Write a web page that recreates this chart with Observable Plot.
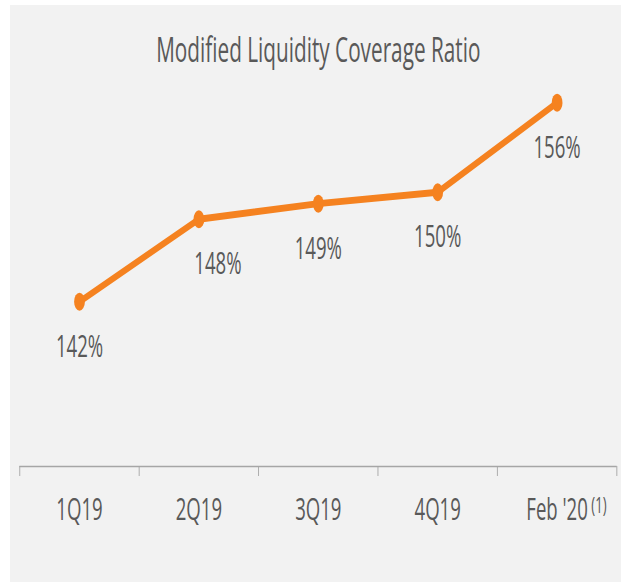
<!DOCTYPE html>
<html>
<head>
<meta charset="utf-8">
<script src="https://cdn.jsdelivr.net/npm/d3@7"></script>
<script src="https://cdn.jsdelivr.net/npm/@observablehq/plot@0.6"></script>
<style>
  html, body { margin: 0; padding: 0; background: #ffffff; }
  #wrap { position: relative; width: 621px; height: 583px; overflow: hidden; }
  #panel { position: absolute; left: 10px; top: 5px; width: 611px; height: 577px; background: #f2f2f2; }
  #chart { position: absolute; left: 0; top: 0; }
</style>
</head>
<body>
<div id="wrap"><div id="panel"></div><div id="chart"></div></div>
<script>
// ---- data ----
const title = "Modified Liquidity Coverage Ratio";
const categories = ["1Q19", "2Q19", "3Q19", "4Q19", "Feb '20"];
const values = [142, 147.8, 148.9, 149.7, 156];
const valueLabels = ["142%", "148%", "149%", "150%", "156%"];
const footnoteMark = "(1)";
const yDomain = [130.4, 160];

const data = categories.map((c, i) => ({cat: c, value: values[i], label: valueLabels[i]}));

// The reference is horizontally condensed: draw in a wider coordinate space and squash it.
const squash = 0.6;
const outW = 621, outH = 583;
const W = outW / squash, H = outH;
const half = 99.56;

const orange = "#f58220";
const textColor = "#595959";
const axisColor = "#a6a6a6";
const font = "'Open Sans', sans-serif";

const svg = Plot.plot({
  width: W,
  height: H,
  marginLeft: 32.2,
  marginRight: 7.2,
  marginTop: 45.4,
  marginBottom: 117,
  style: {background: "transparent", fontFamily: font},
  x: {type: "point", domain: categories, padding: 0.5, axis: null, label: null},
  y: {domain: yDomain, axis: null, label: null},
  marks: [
    Plot.ruleY([yDomain[0]], {stroke: axisColor, strokeWidth: 1.5}),
    Plot.axisX({tickSize: 10, tickFormat: () => "", label: null, dx: -half, stroke: axisColor, strokeWidth: 1.5}),
    Plot.axisX({ticks: [categories[categories.length - 1]], tickSize: 10, tickFormat: () => "", label: null, dx: half, stroke: axisColor, strokeWidth: 1.5}),
    Plot.text(categories, {x: d => d, frameAnchor: "bottom", dy: 44, lineAnchor: "middle", fontSize: 31, fill: textColor}),
    Plot.text([categories[categories.length - 1]], {x: d => d, text: () => footnoteMark, frameAnchor: "bottom", dy: 39, dx: 57, textAnchor: "start", lineAnchor: "middle", fontSize: 22, fill: textColor}),
    Plot.line(data, {x: "cat", y: "value", stroke: orange, strokeWidth: 7, strokeLinejoin: "round"}),
    Plot.dot(data, {x: "cat", y: "value", r: 9, fill: orange}),
    Plot.text(data, {filter: (d, i) => i !== 1, x: "cat", y: "value", text: "label", dy: 45, lineAnchor: "middle", fontSize: 31, fill: textColor}),
    Plot.text(data, {filter: (d, i) => i === 1, x: "cat", y: "value", text: "label", dy: 45, dx: 31.7, lineAnchor: "middle", fontSize: 31, fill: textColor}),
    Plot.text([title], {frameAnchor: "top", dy: 5.2, lineAnchor: "middle", fontSize: 34.6, fill: textColor})
  ]
});

svg.setAttribute("width", outW);
svg.setAttribute("height", outH);
svg.setAttribute("preserveAspectRatio", "none");
svg.style.width = outW + "px";
svg.style.height = outH + "px";
svg.style.maxWidth = "none";
document.getElementById("chart").appendChild(svg);
</script>
</body>
</html>
